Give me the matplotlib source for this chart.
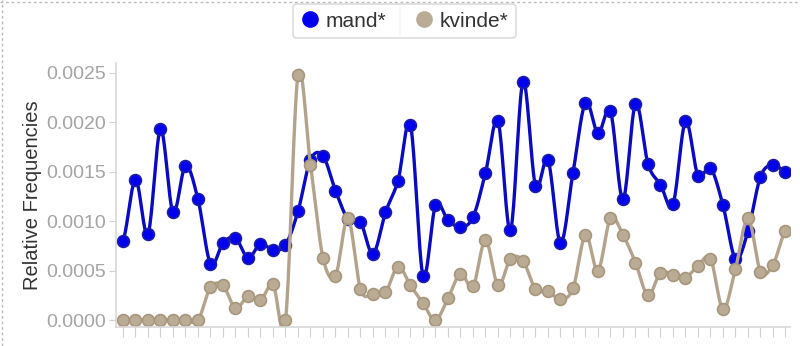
import numpy as np
import matplotlib
matplotlib.use("Agg")
import matplotlib.pyplot as plt
from matplotlib.lines import Line2D

plt.rcParams['font.family'] = ['Liberation Sans', 'DejaVu Sans']

# relative frequencies, one value per position
mand = [0.00080, 0.00142, 0.00087, 0.00193, 0.00109, 0.00156, 0.00122, 0.00057,
        0.00078, 0.00083, 0.00063, 0.00077, 0.00071, 0.00076, 0.00110, 0.00162,
        0.00166, 0.00131, 0.00102, 0.00099, 0.00067, 0.00109, 0.00141, 0.00197,
        0.00045, 0.00116, 0.00101, 0.00094, 0.00104, 0.00149, 0.00201, 0.00091,
        0.00241, 0.00136, 0.00162, 0.00078, 0.00149, 0.00220, 0.00189, 0.00211,
        0.00122, 0.00219, 0.00158, 0.00137, 0.00117, 0.00201, 0.00146, 0.00154,
        0.00116, 0.00062, 0.00090, 0.00145, 0.00157, 0.00150]
kvinde = [0.0, 0.0, 0.0, 0.0, 0.0, 0.0, 0.0, 0.00033,
          0.00035, 0.00012, 0.00024, 0.00020, 0.00036, 0.0, 0.00248, 0.00157,
          0.00063, 0.00045, 0.00103, 0.00031, 0.00026, 0.00028, 0.00054, 0.00035,
          0.00017, 0.0, 0.00022, 0.00047, 0.00034, 0.00081, 0.00035, 0.00062,
          0.00060, 0.00031, 0.00029, 0.00021, 0.00032, 0.00086, 0.00050, 0.00103,
          0.00086, 0.00058, 0.00025, 0.00048, 0.00046, 0.00043, 0.00055, 0.00062,
          0.00011, 0.00052, 0.00103, 0.00049, 0.00056, 0.00090]
serier = ['mand*', 'kvinde*']
yticks = [0.0, 0.0005, 0.0010, 0.0015, 0.0020, 0.0025]


def kurve(y, a=0.5, n=20):
    # glat kurve gennem punkterne (cardinal spline, som i d3)
    y = np.asarray(y, dtype=float)
    x = np.arange(len(y), dtype=float)
    p = np.concatenate(([y[0]], y, [y[-1]]))
    t = a * (p[2:] - p[:-2])
    xs, ys = [], []
    s = np.linspace(0, 1, n, endpoint=False)
    for i in range(len(y) - 1):
        h00 = 2*s**3 - 3*s**2 + 1
        h10 = s**3 - 2*s**2 + s
        h01 = -2*s**3 + 3*s**2
        h11 = s**3 - s**2
        ys.append(h00*y[i] + h10*t[i] + h01*y[i+1] + h11*t[i+1])
        xs.append(x[i] + s)
    xs.append([x[-1]])
    ys.append([y[-1]])
    return np.concatenate(xs), np.concatenate(ys)


fig = plt.figure(figsize=(8, 3.46), dpi=100)
ax = fig.add_axes([0.145, 0.055, 0.8425, 0.763])

farver = {'mand*': ('#0a0ac0', '#0000ee', '#1c1ca8'),
          'kvinde*': ('#b3a38c', '#b9ab94', '#a8967c')}

for navn, y in zip(serier, [mand, kvinde]):
    lc, mc, ec = farver[navn]
    xs, ys = kurve(y)
    ax.plot(xs, ys, color=lc, lw=2.4, solid_capstyle='round')
    ax.plot(np.arange(len(y)), y, 'o', ms=8.5, mfc=mc, mec=ec, mew=1.2)

ax.set_xlim(-0.56, 53.36)
ax.set_ylim(-0.00007, 0.0026)
ax.set_xticks(np.arange(len(mand)))
ax.set_xticklabels([])
ax.set_yticks(yticks)
ax.set_yticklabels(['%.4f' % v for v in yticks])
ax.tick_params(axis='x', length=7, color='#d0d0d0', direction='out')
ax.tick_params(axis='y', length=5, color='#d0d0d0', labelcolor='#a4a4a4',
               labelsize=14, pad=2)
for side in ['top', 'right']:
    ax.spines[side].set_visible(False)
for side in ['left', 'bottom']:
    ax.spines[side].set_color('#d8d8d8')
    ax.spines[side].set_linewidth(1.2)
ax.set_ylabel('Relative Frequencies', fontsize=14.5, color='#333333', labelpad=3)

# legende
handles = [Line2D([], [], ls='none', marker='o', ms=11, mfc=farver[s][1],
                  mec=farver[s][1]) for s in serier]
leg = fig.legend(handles, serier, loc='center', bbox_to_anchor=(0.5056, 0.939),
                 ncol=2, frameon=True, fancybox=True, fontsize=15,
                 handlelength=0.9, handletextpad=0.3, columnspacing=1.4,
                 borderpad=0.35, labelcolor='#333333')
leg.get_frame().set_edgecolor('#d4d4d4')
leg.get_frame().set_linewidth(1.2)
fig.add_artist(Line2D([0.5, 0.5], [1 - 6/346, 1 - 36/346], color='#d4d4d4',
                      lw=1.2, transform=fig.transFigure))

# stiplet ramme oppe og til venstre
fig.add_artist(Line2D([0, 1], [1 - 2/346, 1 - 2/346], color='#bbbbbb', lw=1,
                      ls=(0, (2, 2)), transform=fig.transFigure))
fig.add_artist(Line2D([2/800, 2/800], [0, 1], color='#bbbbbb', lw=1,
                      ls=(0, (2, 2)), transform=fig.transFigure))

fig.savefig('out.png', dpi=100)
